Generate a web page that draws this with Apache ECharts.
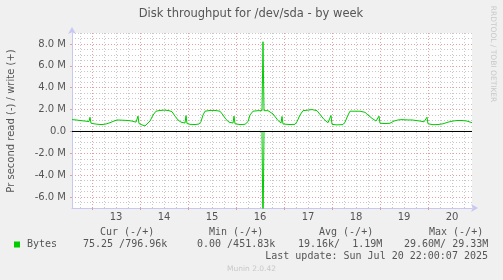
<!DOCTYPE html>
<html><head><meta charset="utf-8">
<script src="https://cdn.jsdelivr.net/npm/echarts@6/dist/echarts.min.js"></script>
<style>html,body{margin:0;padding:0;background:#f0f0f0;}#c{width:503px;height:280px;}</style>
</head><body><div id="c"></div>
<script>
// hours since 2025-07-12 00:00
const startHour = 14, endHour = 214;
const dayLabelHours = [36, 60, 84, 108, 132, 156, 180, 204];
const dayLabels = ['13', '14', '15', '16', '17', '18', '19', '20'];
const midnightHours = [24, 48, 72, 96, 120, 144, 168, 192];
const sixHourHours = [18, 30, 36, 42, 54, 60, 66, 78, 84, 90, 102, 108, 114, 126, 132, 138, 150, 156, 162, 174, 180, 186, 198, 204, 210];
const yMajor = [-6, -4, -2, 0, 2, 4, 6, 8];
const yMinor = [-6.5, -5.5, -5, -4.5, -3.5, -3, -2.5, -1.5, -1, -0.5, 0.5, 1, 1.5, 2.5, 3, 3.5, 4.5, 5, 5.5, 6.5, 7, 7.5, 8.5, 9, -7];

// write (+), MB/s
const writeHours = [14,16,18,20.5,22.5,23,23.5,25,27,29,31,33,35,36.5,37,37.5,40,42,44,46,46.5,47,47.5,49,50.5,51.5,53,54.5,56,58,60.5,62.5,64,65.5,67,68.5,70.5,71,71.5,73,75.5,77.5,78.5,79.5,80.5,83,85.5,88,89.5,91,92.5,94.5,95,95.5,98,100.5,102,103,104.5,107,109,109.5,110,112,113,114.5,117,118.5,119,119.5,123,125.5,126.5,128,129.5,132,134,136.5,138,140,142,143,143.5,144,146.5,149.5,150.5,152,153,155.5,158,160.5,162,164,166,167,167.5,168,170.5,173,175,177,179,182,184,186,188,190,191,191.5,192,194.5,197,199.5,202,204.5,206.5,209,211.5,214];
const writeValues = [1.08,1.05,1.0,0.95,0.9,1.3,0.75,0.7,0.65,0.63,0.68,0.8,0.95,1.05,1.15,1.05,1.02,1.0,0.95,0.85,0.8,1.4,0.72,0.6,0.5,0.6,0.95,1.5,1.85,1.92,1.95,1.9,1.8,1.4,1.05,0.85,0.77,1.45,0.72,0.65,0.63,0.68,0.9,1.5,1.85,1.92,1.92,1.85,1.5,1.1,0.85,0.77,1.4,0.7,0.63,0.65,0.9,1.5,1.85,1.9,1.9,8.2,1.9,1.9,1.8,1.6,1.0,0.77,1.37,0.68,0.63,0.65,0.9,1.5,1.9,1.95,2.0,1.9,1.55,1.1,0.8,0.77,1.46,0.65,0.6,0.63,0.85,1.5,1.85,1.85,1.85,1.75,1.5,1.2,0.95,0.85,1.4,0.75,0.72,0.75,0.95,1.05,1.08,1.05,1.05,1.0,0.95,0.88,0.85,1.3,0.7,0.62,0.63,0.7,0.85,0.95,1.0,1.0,0.95,0.8];

// read (-), MB/s
const readHours = [14,22.5,23,23.5,36.5,37,37.5,46.5,47,47.5,70.5,71,71.5,91,91.5,92,94.5,95,95.5,109,109.5,110,118.5,119,119.5,139,139.5,140,143,143.5,144,167,167.5,168,178.5,179,179.5,191,191.5,192,214];
const readValues = [0,0,-0.12,0,0,-0.12,0,0,-0.12,0,0,-0.12,0,0,-0.12,0,0,-0.12,0,0,-9.5,0,0,-0.12,0,0,-0.12,0,0,-0.12,0,0,-0.12,0,0,-0.12,0,0,-0.12,0,0];

const TXT = '#555';
const SANS = 'DejaVu Sans';
const MONO = 'DejaVu Sans Mono';
const GRID = {left: 72, top: 33, width: 400, height: 175};

const chart = echarts.init(document.getElementById('c'), null, {renderer: 'canvas'});
const pairs = (xs, ys) => xs.map((x, i) => [x, ys[i]]);
const green = '#00cc00';

function monoText(text, x, y, align) {
  return {type: 'text', style: {text: text, x: x, y: y, font: '10px "' + MONO + '"', fill: TXT, textAlign: align || 'left', textVerticalAlign: 'middle'}};
}

chart.setOption({
  animation: false,
  backgroundColor: '#f0f0f0',
  grid: Object.assign({show: true, backgroundColor: '#ffffff', borderWidth: 0}, GRID),
  xAxis: [
    { // minor 6h grid
      type: 'value', min: startHour, max: endHour, gridIndex: 0,
      axisLine: {show: false}, axisLabel: {show: false},
      axisTick: {show: false, customValues: sixHourHours},
      splitLine: {show: true, lineStyle: {color: '#c8c8c8', type: [1, 2], width: 1}}
    },
    { // midnight major + day labels, data axis
      type: 'value', min: startHour, max: endHour, gridIndex: 0, position: 'bottom',
      axisLine: {show: true, onZero: false, lineStyle: {color: '#c8c8f0', width: 1}, symbol: ['none', 'arrow'], symbolSize: [6, 7], symbolOffset: [0, 6]},
      axisTick: {show: true, customValues: midnightHours, length: 2, lineStyle: {color: '#e0a0a0'}},
      axisLabel: {show: true, customValues: dayLabelHours, margin: 4, color: TXT, fontFamily: SANS, fontSize: 10,
        formatter: v => dayLabels[dayLabelHours.indexOf(v)]},
      splitLine: {show: true, lineStyle: {color: '#e6a0a0', type: [1, 2], width: 1}}
    }
  ],
  yAxis: [
    { // minor
      type: 'value', min: -7, max: 9, gridIndex: 0,
      axisLine: {show: false}, axisLabel: {show: false},
      axisTick: {show: false, customValues: yMinor},
      splitLine: {show: true, lineStyle: {color: '#c8c8c8', type: [1, 2], width: 1}}
    },
    { // major + labels, data axis
      type: 'value', min: -7, max: 9, gridIndex: 0, position: 'left',
      axisLine: {show: true, onZero: false, lineStyle: {color: '#c8c8f0', width: 1}, symbol: ['none', 'arrow'], symbolSize: [6, 7], symbolOffset: [0, 6]},
      axisTick: {show: true, customValues: yMajor, length: 2, lineStyle: {color: '#e0a0a0'}},
      axisLabel: {show: true, customValues: yMajor, margin: 6, color: TXT, fontFamily: SANS, fontSize: 10,
        formatter: v => v === 0 ? '0.0' : v.toFixed(1) + ' M'},
      splitLine: {show: true, lineStyle: {color: '#e6a0a0', type: [1, 2], width: 1}}
    }
  ],
  series: [
    {
      name: 'read', type: 'line', xAxisIndex: 1, yAxisIndex: 1, data: pairs(readHours, readValues),
      showSymbol: false, symbol: 'none', clip: true, lineStyle: {color: green, width: 1}, z: 2
    },
    {
      name: 'write', type: 'line', xAxisIndex: 1, yAxisIndex: 1, data: pairs(writeHours, writeValues),
      showSymbol: false, symbol: 'none', clip: true, lineStyle: {color: green, width: 1}, z: 2,
      markLine: {silent: true, symbol: 'none', label: {show: false}, lineStyle: {color: '#000', type: 'solid', width: 1}, data: [{yAxis: 0}]}
    }
  ],
  graphic: [
    {type: 'text', style: {text: 'Disk throughput for /dev/sda - by week', x: 251, y: 14, font: '11.5px "' + SANS + '"', fill: TXT, textAlign: 'center', textVerticalAlign: 'middle'}},
    {type: 'text', rotation: Math.PI / 2, x: 11, y: 121, style: {text: 'Pr second read (-) / write (+)', x: 0, y: 0, font: '10px "' + SANS + '"', fill: TXT, textAlign: 'center', textVerticalAlign: 'middle'}},
    {type: 'text', rotation: -Math.PI / 2, x: 493, y: 54, style: {text: 'RRDTOOL / TOBI OETIKER', x: 0, y: 0, font: '7.5px "' + SANS + '"', fill: '#c8c8c8', textAlign: 'center', textVerticalAlign: 'middle'}},
    monoText('Cur (-/+)', 100, 232),
    monoText('Min (-/+)', 209, 232),
    monoText('Avg (-/+)', 319, 232),
    monoText('Max (-/+)', 429, 232),
    {type: 'rect', shape: {x: 14, y: 241.5, width: 6, height: 6}, style: {fill: green}},
    monoText('Bytes', 27, 244.5),
    monoText('75.25 /796.96k', 83, 244.5),
    monoText('0.00 /451.83k', 197, 244.5),
    monoText('19.16k/  1.19M', 298, 244.5),
    monoText('29.60M/ 29.33M', 404, 244.5),
    monoText('Last update: Sun Jul 20 22:00:07 2025', 488, 256.5, 'right'),
    {type: 'text', style: {text: 'Munin 2.0.42', x: 251.5, y: 269, font: '7.5px "' + SANS + '"', fill: '#c8c8c8', textAlign: 'center', textVerticalAlign: 'middle'}}
  ]
});
</script>
</body></html>
